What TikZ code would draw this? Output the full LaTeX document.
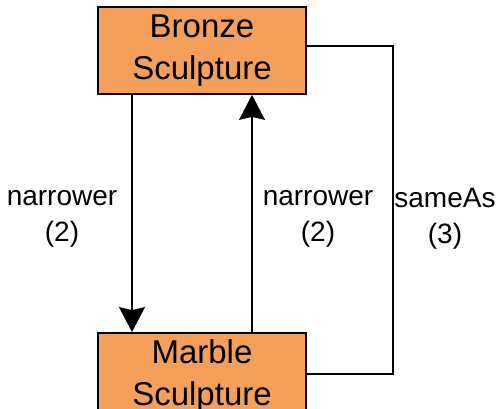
\documentclass[tikz,border=0pt]{standalone}
\usepackage{fontspec}
\setmainfont{Liberation Sans}
\usetikzlibrary{arrows.meta}
\definecolor{boxfill}{RGB}{245,160,90}
% two centred lines, lowered a little inside their box
\newcommand{\stackedname}[2]{\raisebox{-2pt}{\begin{tabular}{@{}c@{}}#1\\#2\end{tabular}}}
\tikzset{
  concept/.style={draw=black, line width=1.8pt, fill=boxfill, rectangle,
    minimum width=208pt, minimum height=87pt, inner sep=0pt,
    font=\fontsize{33}{42}\selectfont},
  rel/.style={line width=1.6pt, draw=black},
  relarrow/.style={rel, -{Stealth[length=25pt, width=26pt, inset=3pt]}},
  rellabel/.style={align=center, inner sep=0pt, font=\fontsize{28}{36}\selectfont}
}
\begin{document}
\begin{tikzpicture}[x=1pt, y=-1pt]
  \useasboundingbox (0,0) rectangle (504,409);
  \clip (0,0) rectangle (504,409);

  % the two concepts
  \node[concept] (bronze) at (202,50.5) {\stackedname{Bronze}{Sculpture}};
  \node[concept] (marble) at (202,376.5) {\stackedname{Marble}{Sculpture}};

  % narrower relations in both directions
  \draw[relarrow] ([xshift=-70pt]bronze.south) -- ([xshift=-70pt]marble.north);
  \draw[relarrow] ([xshift=50pt]marble.north) -- ([xshift=50pt]bronze.south);

  % sameAs relation routed along the right side
  \coordinate (bend1) at (393,46);
  \coordinate (bend2) at (393,374);
  \draw[rel] ([yshift=4.5pt]bronze.east) -- (bend1) -- (bend2) -- ([yshift=2.5pt]marble.east);

  % relation labels
  \node[rellabel] (lblA) at (62,218.5) {narrower\\(2)};
  \node[rellabel] (lblB) at (318,218.5) {narrower\\(2)};
  \node[rellabel] (lblC) at (445,218.5) {sameAs\\(3)};
\end{tikzpicture}
\end{document}
